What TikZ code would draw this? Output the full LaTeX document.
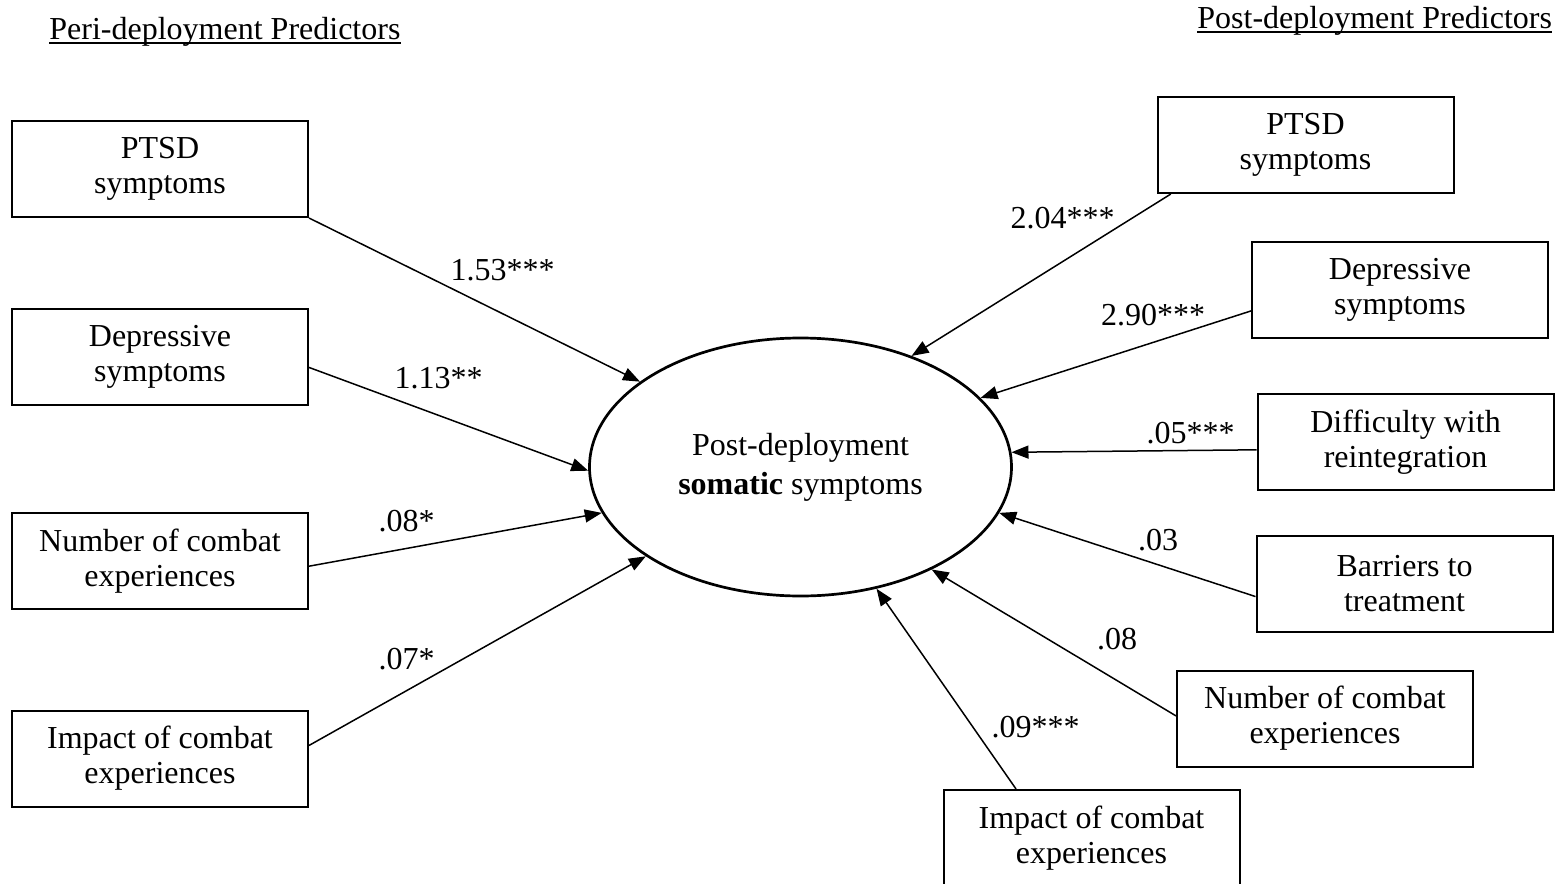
\documentclass[tikz,border=0pt]{standalone}
\usepackage{fontspec}
\setmainfont{Liberation Serif}
\usetikzlibrary{shapes.geometric, arrows.meta, positioning}

\begin{document}
\begin{tikzpicture}[
    x=0.5pt, y=-0.5pt,
    font=\fontsize{16}{17.5}\selectfont,
    predictor/.style={draw, rectangle, line width=1pt, minimum width=148pt, minimum height=48pt, inner sep=0pt, align=center},
    outcome/.style={draw, ellipse, line width=1.35pt, minimum width=211pt, minimum height=129pt, inner sep=0pt, align=center, font=\fontsize{16}{19.5}\selectfont},
    effect/.style={-{Triangle[length=8.5pt,width=6.5pt]}, line width=0.75pt},
    coef/.style={anchor=base, inner sep=0pt},
    heading/.style={anchor=base west, inner sep=0pt}
]
    \useasboundingbox (0,0) rectangle (1555,884);

    % Headings
    \node[heading] (periHead) at (49,39) {Peri-deployment Predictors};
    \node[heading] (postHead) at (1197,28) {Post-deployment Predictors};
    \draw[line width=0.75pt] ([yshift=-2pt]periHead.base west) -- ([yshift=-2pt]periHead.base east);
    \draw[line width=0.75pt] ([yshift=-2pt]postHead.base west) -- ([yshift=-2pt]postHead.base east);

    % Outcome
    \node[outcome] (somatic) at (800.5,467) {Post-deployment\\\textbf{somatic} symptoms};

    % Peri-deployment predictors
    \node[predictor] (ptsdL) at (160,169) {PTSD\\symptoms};
    \node[predictor] (depL) at (160,357) {Depressive\\symptoms};
    \node[predictor] (numL) at (160,561) {Number of combat\\experiences};
    \node[predictor] (impL) at (160,758.5) {Impact of combat\\experiences};

    % Post-deployment predictors
    \node[predictor] (ptsdR) at (1305.5,145) {PTSD\\symptoms};
    \node[predictor] (depR) at (1400,290) {Depressive\\symptoms};
    \node[predictor] (difR) at (1405.5,442) {Difficulty with\\reintegration};
    \node[predictor] (barR) at (1404.5,583.5) {Barriers to\\treatment};
    \node[predictor] (numR) at (1325,718.5) {Number of combat\\experiences};
    \node[predictor] (impR) at (1091.5,838) {Impact of combat\\experiences};

    % Paths
    \draw[effect] (ptsdL.south east) -- (somatic.152.5);
    \draw[effect] (depL.-4) -- (somatic.181.3);
    \draw[effect] (numL.-2) -- (somatic.193.6);
    \draw[effect] (impL.5) -- (somatic.210);
    \draw[effect] (ptsdR.200.5) -- (somatic.45.4);
    \draw[effect] (depR.188) -- (somatic.21.3);
    \draw[effect] (difR.183) -- (somatic.4.5);
    \draw[effect] (barR.185) -- (somatic.-13.4);
    \draw[effect] (numR.179) -- (somatic.-38.4);
    \draw[effect] (impR.147) -- (somatic.-58.1);

    % Coefficients
    \node[coef] (cPtsdL) at (502.5,280) {1.53***};
    \node[coef] (cDepL) at (438.5,388) {1.13**};
    \node[coef] (cNumL) at (406.5,531) {.08*};
    \node[coef] (cImpL) at (406.5,669) {.07*};
    \node[coef] (cPtsdR) at (1062.5,228) {2.04***};
    \node[coef] (cDepR) at (1153,325) {2.90***};
    \node[coef] (cDifR) at (1190.5,443) {.05***};
    \node[coef] (cBarR) at (1158,550) {.03};
    \node[coef] (cNumR) at (1117,649) {.08};
    \node[coef] (cImpR) at (1035.5,737) {.09***};
\end{tikzpicture}
\end{document}
